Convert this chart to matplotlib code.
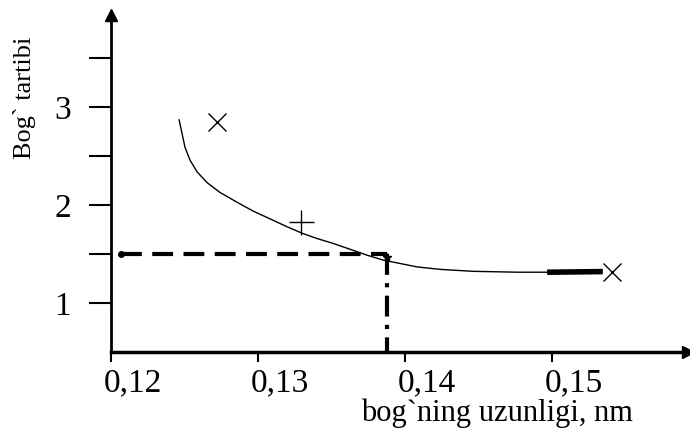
import matplotlib.pyplot as plt
from matplotlib.transforms import ScaledTranslation

plt.rcParams["font.family"] = ["Liberation Serif", "DejaVu Serif"]

# curve (bond length, nm / bond order)
egri_x = [0.12463, 0.12483, 0.12503, 0.12537, 0.12585, 0.12653, 0.12741,
          0.12857, 0.12966, 0.13082, 0.13197, 0.13306, 0.13401, 0.13510,
          0.13626, 0.13741, 0.13850, 0.13966, 0.14082, 0.14238, 0.14463,
          0.14762, 0.14986, 0.15327]
egri_y = [2.87, 2.73, 2.59, 2.46, 2.34, 2.23, 2.13,
          2.03, 1.94, 1.86, 1.78, 1.71, 1.66, 1.61,
          1.55, 1.49, 1.44, 1.405, 1.37, 1.345, 1.325,
          1.316, 1.316, 1.322]

# data points
x_nuqta_x = [0.1272, 0.1541]
x_nuqta_y = [2.85, 1.316]
plus_x = [0.1329]
plus_y = [1.83]

# reading of bond order 1.5
kesish_x = 0.1388
kesish_y = 1.5
boshi_x = 0.1207

xticks = [0.12, 0.13, 0.14, 0.15]
xlabels = ["0,12", "0,13", "0,14", "0,15"]
yticks = [1.0, 1.5, 2.0, 2.5, 3.0, 3.5]
ylabels = ["1", "", "2", "", "3", ""]

fig = plt.figure(figsize=(6.9, 4.3), dpi=100)
ax = fig.add_axes([0.161, 0.181, 0.836, 0.784])
ax.set_xlim(0.12, 0.15925)
ax.set_ylim(0.5, 3.94)

ax.spines["top"].set_visible(False)
ax.spines["right"].set_visible(False)
ax.spines["left"].set_linewidth(2)
ax.spines["bottom"].set_linewidth(2.5)

# arrow heads of the axes
ax.plot(1, 0, ">", color="black", ms=8, transform=ax.transAxes, clip_on=False)
ax.plot(0, 1, "^", color="black", ms=8, transform=ax.transAxes, clip_on=False)

ax.plot(egri_x, egri_y, color="black", lw=1.0)
ax.plot(egri_x[-2:], egri_y[-2:], color="black", lw=4)
ax.plot(x_nuqta_x, x_nuqta_y, "x", color="black", ms=13, mew=1.0)
ax.plot(plus_x, plus_y, "+", color="black", ms=18, mew=1.0)
ax.plot([kesish_x], [kesish_y - 0.03], "*", color="black", ms=6)

ax.plot([boshi_x, kesish_x], [kesish_y, kesish_y], color="black",
        lw=3, dashes=(5, 2.5))
ax.plot([boshi_x], [kesish_y], "o", color="black", ms=4)
ax.plot([kesish_x, kesish_x], [kesish_y, 0.5], color="black",
        lw=3, dashes=(5, 2, 1, 2))

ax.set_xticks(xticks)
ax.set_xticklabels(xlabels)
ax.set_yticks(yticks)
ax.set_yticklabels(ylabels)
ax.tick_params(axis="y", direction="out", length=16, width=1.5,
               labelsize=24, pad=13)
ax.tick_params(axis="x", direction="out", length=7, width=1.5,
               labelsize=24, pad=4)
sdvig = ScaledTranslation(0.22, 0, fig.dpi_scale_trans)
for lab in ax.get_xticklabels():
    lab.set_transform(lab.get_transform() + sdvig)

fig.text(0.036, 0.772, "Bog` tartibi", rotation=90, fontsize=19,
         ha="center", va="center")
fig.text(0.72, 0.004, "bog`ning uzunligi, nm", fontsize=22,
         ha="center", va="bottom")

fig.savefig("out.png", dpi=100)
